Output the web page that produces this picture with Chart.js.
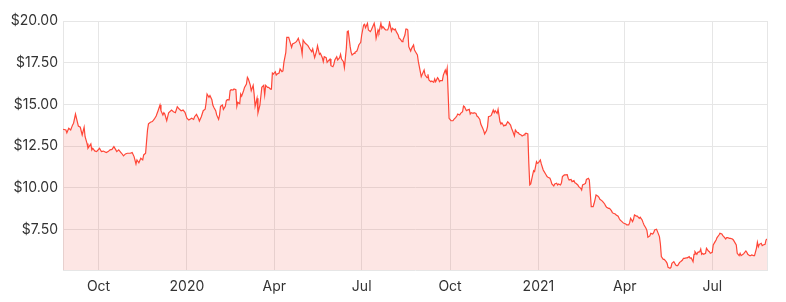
<!DOCTYPE html>
<html>
<head>
<meta charset="utf-8">
<script src="https://cdn.jsdelivr.net/npm/chart.js@4/dist/chart.umd.min.js"></script>
<style>
  html, body { margin: 0; padding: 0; background: #ffffff; }
  #wrap { width: 786px; height: 302px; }
</style>
</head>
<body>
<div id="wrap"><canvas id="c" width="786" height="302"></canvas></div>
<script>
// ---- data ----
const startDate = '2019-08-25';   // day 0 of the series
const dayOffsets = [
  0,3,4,6,8,10,11,13,14,16,18,20,22,23,25,26,29,30,31,33,35,38,40,42,45,47,49,51,53,55,56,58,61,63,65,67,70,72,74,76,77,79,81,83,84,86,88,89,91,93,95,97,99,101,102,104,105,106,108,110,113,115,117,119,121,123,125,127,129,131,
  134,136,137,139,141,142,144,146,148,149,150,152,153,155,156,157,159,160,162,163,164,166,167,169,170,171,173,174,175,177,178,180,181,182,184,185,186,188,189,191,192,193,195,196,198,199,200,202,203,205,206,207,209,210,211,213,214,216,217,218,219,221,222,223,225,226,228,229,230,232,233,235,236,238,239,241,243,245,246,248,249,250,252,255,257,259,260,261,
  262,264,265,267,268,270,271,272,274,275,276,278,279,281,282,283,285,286,288,289,290,292,293,295,296,297,299,300,301,303,304,306,307,308,310,311,313,314,315,317,318,320,321,322,324,325,326,328,329,331,332,333,335,336,338,339,340,342,343,345,346,347,349,350,351,353,354,356,357,358,359,360,362,363,365,366,367,369,370,372,373,374,376,377,379,380,381,383,384,386,387,388,390,391,392,
  393,395,396,398,399,400,401,402,404,406,407,409,410,411,413,414,416,417,418,420,421,423,424,425,427,428,430,431,432,434,435,437,438,439,441,442,443,445,446,448,449,450,452,453,455,456,457,459,460,461,463,464,466,467,468,470,471,473,474,475,477,478,480,481,482,484,485,486,487,489,490,491,493,494,495,497,498,500,501,502,504,505,507,508,509,511,512,514,515,516,518,519,520,522,
  523,525,526,527,529,530,532,533,534,536,537,539,540,541,543,544,545,547,548,549,550,552,553,554,555,557,558,559,561,562,564,565,566,568,569,571,572,573,575,576,578,579,580,582,583,584,586,587,589,590,591,593,594,595,597,598,600,601,603,604,605,607,608,609,611,612,614,615,616,618,619,621,622,623,625,626,628,629,630,632,633,634,636,
  638,639,640,642,643,645,646,647,649,650,652,653,654,656,657,658,660,661,663,664,665,666,667,669,670,672,673,674,676,677,679,680,681,683,684,686,687,688,690,691,692,694,695,697,698,699,701,702,704,705,706,708,709,711,712,713,715,716,717,719,720,722,723,724,725,727,728,729,731,732,733
];
const prices = [
  13.51,13.47,13.30,13.57,13.47,13.77,13.87,14.42,14.17,13.70,13.63,13.17,13.63,13.06,12.66,12.37,12.63,12.27,12.37,12.21,12.17,12.37,12.17,12.20,12.11,12.17,12.27,12.30,12.47,12.27,12.17,12.27,12.07,11.91,12.03,12.07,12.07,12.11,11.87,11.43,11.67,11.50,11.77,11.67,11.97,12.07,13.47,13.83,13.93,13.97,14.11,14.30,14.62,14.96,14.62,14.36,14.50,14.42,14.02,14.50,14.66,14.56,14.50,14.86,14.72,14.62,14.66,14.52,14.17,14.07,
  14.17,14.10,14.26,14.40,14.17,14.00,14.26,14.62,14.71,15.10,15.62,15.43,15.53,15.28,14.96,14.83,14.62,14.37,14.10,14.36,14.88,14.96,14.70,14.88,15.22,15.28,15.27,15.82,15.88,15.86,15.92,15.88,14.88,15.13,15.04,15.62,15.49,15.82,16.02,16.22,16.62,16.52,16.16,15.82,16.14,15.62,14.88,15.37,14.49,14.96,15.49,16.02,16.14,15.57,16.14,16.02,16.02,15.92,15.92,16.88,16.82,16.96,16.76,16.82,16.88,17.12,16.96,17.00,17.52,18.12,19.02,19.02,18.82,18.42,18.62,18.68,18.76,18.96,18.76,18.42,18.02,18.86,18.68,18.52,18.32,18.16,18.32,18.06,
  17.80,18.20,18.52,18.00,18.06,17.80,17.56,17.86,17.80,17.52,17.60,17.72,17.32,17.26,17.40,17.66,17.86,17.66,17.80,18.00,17.72,17.56,17.20,18.36,19.36,19.40,18.46,18.12,17.96,18.06,18.12,18.20,18.36,18.56,18.72,19.16,19.76,19.80,19.60,19.86,19.46,19.36,19.46,19.60,19.86,19.56,18.96,19.46,19.32,19.86,19.56,19.66,19.52,19.46,19.46,19.60,19.92,19.40,19.56,19.46,19.52,19.36,19.16,18.96,18.92,18.76,18.86,19.16,19.52,19.52,19.46,18.46,18.20,18.36,18.56,18.26,18.16,17.96,17.56,16.96,16.66,16.80,17.06,16.76,16.60,16.80,16.46,16.36,16.40,16.32,16.52,16.36,16.60,16.52,16.36,
  16.42,16.42,16.76,17.06,16.86,17.16,15.66,14.16,14.02,14.02,14.10,14.22,14.30,14.42,14.36,14.46,14.56,14.90,14.86,14.62,14.66,14.70,14.42,14.50,14.46,14.50,14.46,14.30,14.26,14.10,13.82,13.57,13.43,13.23,13.43,13.66,14.26,14.30,14.36,14.66,14.50,14.62,14.46,14.70,13.96,13.82,13.90,13.70,13.76,13.74,13.96,13.90,13.76,13.57,13.43,13.11,13.47,13.31,13.31,13.23,13.17,13.11,13.17,13.23,13.27,13.23,11.47,10.17,10.23,10.77,11.03,10.97,11.57,11.47,11.50,11.67,11.43,11.07,10.97,10.87,10.67,10.63,10.57,10.43,10.23,10.11,10.23,10.27,10.17,10.23,10.17,10.30,10.67,10.77,
  10.77,10.79,10.57,10.47,10.50,10.37,10.43,10.30,10.27,10.17,10.07,9.97,9.87,10.17,10.23,10.27,10.50,10.57,10.47,9.67,8.87,8.87,9.07,9.31,9.57,9.50,9.43,9.31,9.23,9.17,9.03,8.91,8.83,8.77,8.77,8.63,8.51,8.47,8.43,8.37,8.30,8.17,8.07,7.97,7.91,7.87,7.83,7.77,7.77,7.91,8.17,7.97,8.11,8.37,8.30,8.30,8.17,8.23,8.07,7.91,7.77,7.57,7.43,7.03,7.11,7.27,7.23,7.31,7.47,7.51,7.37,7.07,6.63,5.87,5.71,5.71,5.57,5.47,5.23,5.17,5.23,5.47,5.57,
  5.37,5.33,5.33,5.53,5.57,5.67,5.77,5.77,5.80,5.80,5.87,5.77,5.80,5.57,6.01,6.17,6.01,6.13,6.17,6.33,6.01,6.07,6.01,6.07,6.37,6.21,6.17,6.07,6.13,6.57,6.77,6.87,7.01,7.17,7.27,7.23,7.13,7.07,6.93,7.01,7.01,6.97,6.97,6.93,6.87,6.77,6.57,6.07,5.93,6.07,5.93,6.01,6.07,6.21,6.13,6.01,5.93,5.93,5.97,5.93,5.93,6.37,6.73,6.47,6.61,6.67,6.53,6.57,6.61,6.87,6.93
];
const tickDates  = ['2019-10-01','2020-01-01','2020-04-01','2020-07-01','2020-10-01','2021-01-01','2021-04-01','2021-07-01'];
const tickLabels = ['Oct','2020','Apr','Jul','Oct','2021','Apr','Jul'];
const yTickValues = [7.5, 10, 12.5, 15, 17.5, 20];

// ---- build ----
const DAY = 86400000;
const t0 = new Date(startDate).getTime();
const tickOffsets = tickDates.map(d => Math.round((new Date(d).getTime() - t0) / DAY));
const points = dayOffsets.map((d, i) => ({ x: d, y: prices[i] }));
const xMax = dayOffsets[dayOffsets.length - 1];

const FONT = { family: 'Inter, "Open Sans", sans-serif', size: 14 };
const GRID = '#e6e6e6';

new Chart(document.getElementById('c'), {
  type: 'line',
  data: {
    datasets: [{
      data: points,
      borderColor: 'rgb(255,70,55)',
      backgroundColor: 'rgba(242,60,48,0.13)',
      borderWidth: 1.2,
      pointRadius: 0,
      pointHoverRadius: 0,
      tension: 0,
      fill: 'start'
    }]
  },
  options: {
    responsive: false,
    animation: false,
    devicePixelRatio: 1,
    layout: { padding: { top: 21, right: 19, left: 0, bottom: 0 } },
    plugins: { legend: { display: false }, tooltip: { enabled: false } },
    scales: {
      x: {
        type: 'linear',
        min: 0,
        max: xMax,
        afterBuildTicks: axis => {
          axis.ticks = tickOffsets.map(v => ({ value: v })).concat([{ value: xMax }]);
        },
        afterFit: s => { s.height = 32; },
        ticks: {
          autoSkip: false,
          maxRotation: 0,
          padding: 8,
          color: '#333333',
          font: FONT,
          callback: (v) => {
            const i = tickOffsets.indexOf(v);
            return i >= 0 ? tickLabels[i] : '';
          }
        },
        grid: { color: GRID, drawTicks: false, lineWidth: 1 },
        border: { display: true, color: GRID }
      },
      y: {
        type: 'linear',
        min: 5.07,
        max: 20,
        afterBuildTicks: axis => {
          axis.ticks = yTickValues.map(v => ({ value: v }));
        },
        afterFit: s => { s.width = 63; },
        ticks: {
          padding: 5,
          color: '#333333',
          font: FONT,
          callback: v => '$' + Number(v).toFixed(2)
        },
        grid: { color: GRID, drawTicks: false, lineWidth: 1 },
        border: { display: true, color: GRID }
      }
    }
  }
});
</script>
</body>
</html>
